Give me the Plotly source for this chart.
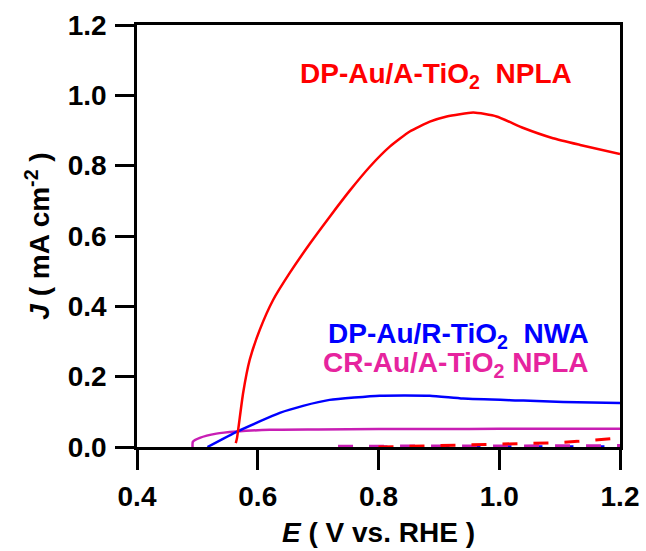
import plotly.graph_objects as go

# Photocurrent (light) curves
E_dp_a = [0.5636, 0.5657, 0.5757, 0.5867, 0.6033, 0.6254, 0.653, 0.6862, 0.7193, 0.7524,
          0.7856, 0.8187, 0.8518, 0.885, 0.913, 0.957, 0.9955, 1.040, 1.089, 1.134, 1.20]
J_dp_a = [0.011, 0.026, 0.153, 0.248, 0.333, 0.418, 0.495, 0.578, 0.655, 0.729,
          0.797, 0.854, 0.897, 0.925, 0.940, 0.951, 0.940, 0.907, 0.878, 0.859, 0.833]

E_dp_r = [0.5167, 0.5657, 0.6365, 0.675, 0.719, 0.802, 0.885, 0.940, 1.040, 1.106, 1.20]
J_dp_r = [0.0, 0.044, 0.097, 0.117, 0.134, 0.146, 0.146, 0.138, 0.132, 0.128, 0.125]

E_cr_a = [0.492, 0.4925, 0.504, 0.5315, 0.565, 0.620, 0.70, 0.80, 0.90, 1.00, 1.10, 1.20]
J_cr_a = [0.0, 0.015, 0.026, 0.038, 0.044, 0.049, 0.050, 0.051, 0.051, 0.052, 0.052, 0.052]

# Dark-current curves
E_dark_dp_a = [0.80, 0.87, 0.93, 1.03, 1.09, 1.13, 1.17, 1.20]
J_dark_dp_a = [0.0, 0.003, 0.005, 0.009, 0.012, 0.016, 0.022, 0.026]

E_dark_dp_r = [0.79, 0.90, 1.00, 1.10, 1.20]
J_dark_dp_r = [0.0, 0.0, 0.0, 0.0, 0.001]

E_dark_cr_a = [0.733, 0.80, 0.90, 1.00, 1.10, 1.20]
J_dark_cr_a = [0.002, 0.003, 0.003, 0.003, 0.004, 0.004]

x_ticks = [0.4, 0.6, 0.8, 1.0, 1.2]
x_tick_text = ["0.4", "0.6", "0.8", "1.0", "1.2"]
y_ticks = [0.0, 0.2, 0.4, 0.6, 0.8, 1.0, 1.2]
y_tick_text = ["0.0", "0.2", "0.4", "0.6", "0.8", "1.0", "1.2"]

RED = "#FF0000"
BLUE = "#0000FF"
MAG_LINE = "#C81EB4"
MAG_TEXT = "#E6249E"
FONT = "Liberation Sans, Arial, sans-serif"
DASH = "15px,16px"

fig = go.Figure()

fig.add_trace(go.Scatter(x=E_dark_dp_r, y=J_dark_dp_r, mode="lines",
                         line=dict(color=BLUE, width=3, dash=DASH)))
fig.add_trace(go.Scatter(x=E_dark_cr_a, y=J_dark_cr_a, mode="lines",
                         line=dict(color=MAG_LINE, width=3, dash=DASH)))
fig.add_trace(go.Scatter(x=E_dark_dp_a, y=J_dark_dp_a, mode="lines",
                         line=dict(color=RED, width=3, dash=DASH)))

fig.add_trace(go.Scatter(x=E_cr_a, y=J_cr_a, mode="lines",
                         line=dict(color=MAG_LINE, width=2.5, shape="spline", smoothing=0.5)))
fig.add_trace(go.Scatter(x=E_dp_r, y=J_dp_r, mode="lines",
                         line=dict(color=BLUE, width=2.5, shape="spline", smoothing=0.5)))
fig.add_trace(go.Scatter(x=E_dp_a, y=J_dp_a, mode="lines",
                         line=dict(color=RED, width=2.5, shape="spline", smoothing=0.5)))

labels = [
    ("DP-Au/A-TiO<sub>2</sub>\u00a0 NPLA", RED, 0.895, 1.056),
    ("DP-Au/R-TiO<sub>2</sub>\u00a0 NWA", BLUE, 0.933, 0.318),
    ("CR-Au/A-TiO<sub>2</sub>\u00a0NPLA", MAG_TEXT, 0.928, 0.236),
]
for text, color, x, y in labels:
    fig.add_annotation(x=x, y=y, xref="x", yref="y", text=text, showarrow=False,
                       xanchor="center", yanchor="middle",
                       font=dict(family=FONT, size=28, color=color, weight="bold"))

axis_common = dict(
    showline=True, linecolor="black", linewidth=2.5, mirror=True,
    ticks="outside", tickcolor="black", tickwidth=2.5,
    showgrid=False, zeroline=False,
    tickfont=dict(family=FONT, size=28, color="black", weight="bold"),
)
title_font = dict(family=FONT, size=28, color="black", weight="bold")

fig.update_xaxes(range=[0.4, 1.2], tickvals=x_ticks, ticktext=x_tick_text, ticklen=20,
                 ticklabelstandoff=3,
                 title=dict(text="<i>E</i> ( V vs. RHE )", standoff=12, font=title_font),
                 **axis_common)
fig.update_yaxes(range=[0, 1.2], tickvals=y_ticks, ticktext=y_tick_text, ticklen=19,
                 ticklabelstandoff=3,
                 title=dict(text="<i>J</i> ( mA cm<sup>-2</sup> )", standoff=10, font=title_font),
                 **axis_common)

fig.update_layout(
    width=646, height=551,
    margin=dict(l=137, r=26, t=25, b=104, autoexpand=False),
    plot_bgcolor="white", paper_bgcolor="white",
    showlegend=False,
)

fig.write_html("out.html")
